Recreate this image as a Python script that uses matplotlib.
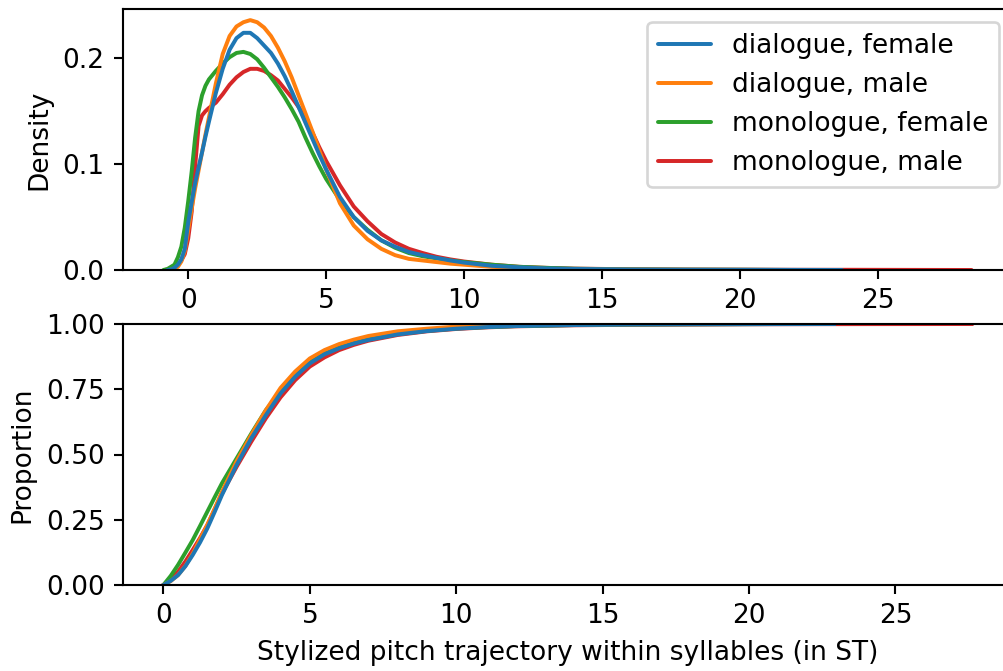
import matplotlib
matplotlib.use("Agg")
import matplotlib.pyplot as plt

labels = ["dialogue, female", "dialogue, male", "monologue, female", "monologue, male"]
colors = ["#1f77b4", "#ff7f0e", "#2ca02c", "#d62728"]

# ---- KDE (top panel) ----
kde_grid = [-0.5, -0.375, -0.25, -0.125, 0, 0.125, 0.25, 0.375, 0.5, 0.625, 0.75,
            1, 1.25, 1.5, 1.75, 2, 2.25, 2.5, 2.75, 3, 3.25, 3.5, 3.75, 4, 4.25, 4.5,
            4.75, 5, 5.5, 6, 6.5, 7, 7.5, 8, 8.5, 9, 9.5, 10, 11, 12, 13, 14, 16, 18, 20]

kde_dialogue_female = [0.002, 0.005, 0.010, 0.020, 0.045, 0.064, 0.082, 0.097, 0.111, 0.126, 0.140,
                       0.167, 0.190, 0.208, 0.219, 0.224, 0.224, 0.219, 0.212, 0.205, 0.195, 0.183,
                       0.169, 0.154, 0.139, 0.124, 0.109, 0.095, 0.069, 0.050, 0.037, 0.028, 0.022,
                       0.017, 0.014, 0.0115, 0.009, 0.007, 0.004, 0.0025, 0.0015, 0.001, 0.0005,
                       0.0003, 0.0002]
kde_dialogue_male = [0.001, 0.003, 0.008, 0.018, 0.038, 0.058, 0.077, 0.094, 0.111, 0.128, 0.144,
                     0.176, 0.204, 0.221, 0.230, 0.234, 0.236, 0.234, 0.229, 0.221, 0.210, 0.197,
                     0.182, 0.165, 0.148, 0.131, 0.113, 0.095, 0.063, 0.042, 0.029, 0.020, 0.014,
                     0.0105, 0.009, 0.0075, 0.006, 0.005, 0.003, 0.002, 0.001, 0.0007, 0.0004,
                     0.0002, 0.0001]
kde_monologue_female = [0.005, 0.012, 0.022, 0.040, 0.065, 0.093, 0.125, 0.150, 0.165, 0.174, 0.180,
                        0.188, 0.195, 0.201, 0.205, 0.206, 0.204, 0.199, 0.191, 0.182, 0.173, 0.163,
                        0.152, 0.140, 0.125, 0.111, 0.098, 0.086, 0.066, 0.050, 0.038, 0.028, 0.021,
                        0.016, 0.013, 0.011, 0.009, 0.0075, 0.005, 0.003, 0.002, 0.0012, 0.0006,
                        0.0003, 0.0002]
kde_monologue_male = [0.002, 0.005, 0.009, 0.015, 0.030, 0.055, 0.098, 0.136, 0.146, 0.150, 0.153,
                      0.158, 0.166, 0.175, 0.182, 0.187, 0.190, 0.190, 0.188, 0.184, 0.179, 0.171,
                      0.163, 0.154, 0.143, 0.130, 0.116, 0.103, 0.080, 0.060, 0.046, 0.034, 0.026,
                      0.020, 0.016, 0.0125, 0.010, 0.008, 0.005, 0.003, 0.002, 0.0013, 0.0007,
                      0.0004, 0.0003]

# support ends (lead-in and tail points of each curve)
kde_head_x = [[-0.75, -0.6], [-0.7, -0.6], [-0.9, -0.75], [-0.85, -0.75]]
kde_head_y = [[0.0, 0.0008], [0.0, 0.0004], [0.0, 0.001], [0.0, 0.0005]]
kde_tail_x = [[22, 23.7], [21.5], [22], [22, 24, 26, 28.4]]
kde_tail_y = [[0.0001, 0.0], [0.0], [0.0], [0.0002, 0.0002, 0.0001, 0.0]]

# ---- ECDF (bottom panel) ----
ecdf_grid = [0, 0.25, 0.5, 0.75, 1, 1.25, 1.5, 1.75, 2, 2.5, 3, 3.5, 4, 4.5, 5, 5.5,
             6, 6.5, 7, 8, 9, 10, 11, 12, 14, 16, 18, 20]
ecdf_dialogue_female = [0, 0.016, 0.038, 0.072, 0.115, 0.163, 0.217, 0.280, 0.345, 0.460, 0.562,
                        0.651, 0.734, 0.798, 0.849, 0.884, 0.907, 0.925, 0.939, 0.960, 0.973,
                        0.982, 0.988, 0.992, 0.996, 0.998, 0.999, 0.9995]
ecdf_dialogue_male = [0, 0.015, 0.038, 0.073, 0.120, 0.175, 0.230, 0.292, 0.357, 0.474, 0.575,
                      0.670, 0.755, 0.818, 0.868, 0.900, 0.923, 0.940, 0.954, 0.972, 0.982,
                      0.990, 0.994, 0.996, 0.998, 0.999, 0.9995, 1.0]
ecdf_monologue_female = [0, 0.035, 0.077, 0.124, 0.172, 0.226, 0.281, 0.336, 0.390, 0.485, 0.580,
                         0.670, 0.741, 0.805, 0.856, 0.888, 0.911, 0.928, 0.941, 0.962, 0.974,
                         0.983, 0.988, 0.992, 0.996, 0.998, 0.999, 0.9995]
ecdf_monologue_male = [0, 0.022, 0.051, 0.090, 0.134, 0.180, 0.230, 0.290, 0.351, 0.453, 0.549,
                       0.639, 0.719, 0.785, 0.837, 0.872, 0.900, 0.920, 0.936, 0.958, 0.972,
                       0.981, 0.987, 0.991, 0.995, 0.997, 0.998, 0.999]
ecdf_tail_x = [[22.9], [20.5], [21], [22, 24, 26, 27.6]]
ecdf_tail_y = [[1.0], [1.0], [1.0], [0.9993, 0.9996, 0.9998, 1.0]]

kde_series = [kde_dialogue_female, kde_dialogue_male, kde_monologue_female, kde_monologue_male]
ecdf_series = [ecdf_dialogue_female, ecdf_dialogue_male, ecdf_monologue_female, ecdf_monologue_male]

W, H, DPI = 1003, 671, 190
fig = plt.figure(figsize=(W / DPI, H / DPI), dpi=DPI)
ax1 = fig.add_axes([123 / W, (H - 270) / H, 889 / W, 261 / H])
ax2 = fig.add_axes([123 / W, (H - 585) / H, 889 / W, 261 / H])

handles = [None] * 4
for i in [3, 2, 1, 0]:
    xs = kde_head_x[i] + kde_grid + kde_tail_x[i]
    ys = kde_head_y[i] + kde_series[i] + kde_tail_y[i]
    ln, = ax1.plot(xs, ys, color=colors[i], lw=1.5, label=labels[i],
                   solid_joinstyle="round", solid_capstyle="round")
    handles[i] = ln
    ex = ecdf_grid + ecdf_tail_x[i]
    ey = ecdf_series[i] + ecdf_tail_y[i]
    ax2.plot(ex, ey, color=colors[i], lw=1.5, solid_joinstyle="round")

ax1.set_ylim(0, 0.2465)
ax1.set_yticks([0.0, 0.1, 0.2])
ax1.set_xticks([0, 5, 10, 15, 20, 25])
ax1.set_ylabel("Density")
ax1.legend(handles=handles, labels=labels, loc="upper right")

ax2.set_ylim(0, 1)
ax2.set_yticks([0, 0.25, 0.5, 0.75, 1.0])
ax2.set_xticks([0, 5, 10, 15, 20, 25])
ax2.set_ylabel("Proportion")
ax2.set_xlabel("Stylized pitch trajectory within syllables (in ST)")

fig.savefig("out.png", dpi=DPI)
